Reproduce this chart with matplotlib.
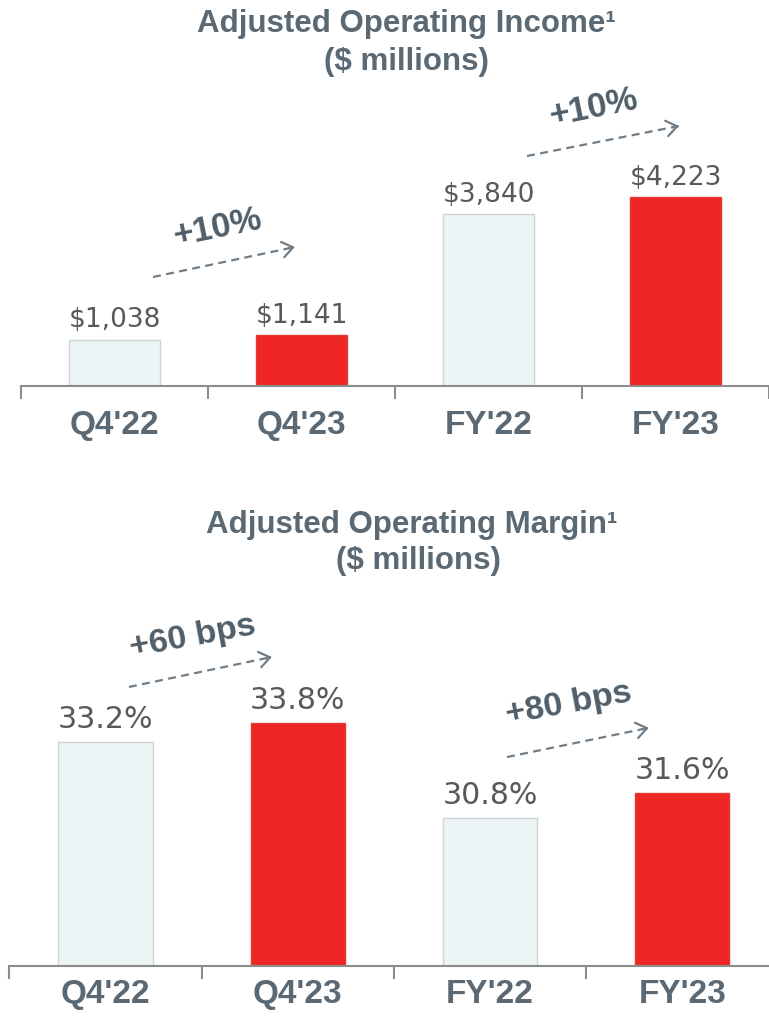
import matplotlib
matplotlib.use("Agg")
import matplotlib.pyplot as plt

# ---------------- data ----------------
categories = ["Q4'22", "Q4'23", "FY'22", "FY'23"]
income = [1038, 1141, 3840, 4223]
margin = [33.2, 33.8, 30.8, 31.6]
income_labels = ["$1,038", "$1,141", "$3,840", "$4,223"]
margin_labels = ["33.2%", "33.8%", "30.8%", "31.6%"]
income_changes = ["+10%", "+10%"]
margin_changes = ["+60 bps", "+80 bps"]

# ---------------- style ----------------
LIGHT = '#edf4f6'
RED = '#ee2724'
bar_colors = [LIGHT, RED, LIGHT, RED]
edge_colors = ['#cdd3d6', '#e33a36', '#cdd3d6', '#e33a36']
SLATE = '#5a6974'
ARROWC = '#6f7e88'
CHANGEC = '#4f5e69'
VALC = '#595959'
AXC = '#8c8c8c'

W, H = 769, 1020
fig = plt.figure(figsize=(W / 100, H / 100), dpi=100)


def rect(left, top, right, bottom):
    return [left / W, 1 - bottom / H, (right - left) / W, (bottom - top) / H]


def style(ax, pad):
    for s in ['top', 'left', 'right']:
        ax.spines[s].set_visible(False)
    ax.spines['bottom'].set_color(AXC)
    ax.spines['bottom'].set_linewidth(1.5)
    ax.set_xlim(-0.5, 3.5)
    ax.set_yticks([])
    ax.set_xticks(range(len(categories)))
    ax.set_xticklabels(categories, fontfamily='Liberation Sans', fontweight='bold',
                       fontsize=24, color=SLATE)
    ax.tick_params(axis='x', which='major', length=0, pad=pad)
    ax.set_xticks([i - 0.5 for i in range(len(categories) + 1)], minor=True)
    ax.tick_params(axis='x', which='minor', length=9, width=1.5, color=AXC, direction='out')
    ax.patch.set_alpha(0)


def change_arrow(ax, start, end, text, tpos, rot, size):
    (x0, y0), (x1, y1) = start, end
    ax.plot([x0, x1], [y0, y1], linestyle=(0, (3.6, 2.4)), lw=1.6, color=ARROWC,
            solid_capstyle='butt', dash_capstyle='butt')
    eps = 0.04
    ax.annotate('', xy=(x1, y1), xytext=(x1 - eps * (x1 - x0), y1 - eps * (y1 - y0)),
                arrowprops=dict(arrowstyle='->,head_length=0.55,head_width=0.4',
                                lw=1.6, color=ARROWC, shrinkA=0, shrinkB=0,
                                mutation_scale=14))
    ax.text(tpos[0], tpos[1], text, rotation=rot, rotation_mode='anchor',
            ha='center', va='center', fontfamily='Liberation Sans', fontweight='bold',
            fontsize=size, color=CHANGEC)


# ---------------- top chart ----------------
ax1 = fig.add_axes(rect(21, 87, 769, 387))
x = range(len(categories))
ax1.bar(x, income, width=0.49, color=bar_colors, edgecolor=edge_colors, linewidth=1)
ax1.set_ylim(0, 6711)
style(ax1, 16.5)
for i, (v, lab) in enumerate(zip(income, income_labels)):
    ax1.annotate(lab, (i, v), xytext=(0, 9.7), textcoords='offset points',
                 ha='center', va='baseline', fontfamily='DejaVu Sans',
                 fontsize=19, color=VALC)
change_arrow(ax1, (0.206, 2438), (0.965, 3110), income_changes[0], (0.553, 3557), 11.5, 25)
change_arrow(ax1, (2.206, 5145), (3.019, 5817), income_changes[1], (2.564, 6242), 11.5, 25)

# ---------------- bottom chart ----------------
ax2 = fig.add_axes(rect(9.3, 600, 778.5, 966.7))
ax2.bar(x, margin, width=0.49, color=bar_colors, edgecolor=edge_colors, linewidth=1,
        bottom=0)
ax2.set_ylim(26.09, 37.76)
style(ax2, 9)
for i, (v, lab) in enumerate(zip(margin, margin_labels)):
    ax2.annotate(lab, (i, v), xytext=(0, 10.8), textcoords='offset points',
                 ha='center', va='baseline', fontfamily='DejaVu Sans',
                 fontsize=21.6, color=VALC)
change_arrow(ax2, (0.122, 34.96), (0.866, 35.915), margin_changes[0], (0.453, 36.57), 10.5, 24.5)
change_arrow(ax2, (2.088, 32.73), (2.826, 33.66), margin_changes[1], (2.408, 34.43), 10.5, 24.5)

# ---------------- titles ----------------
tkw = dict(ha='center', va='baseline', fontfamily='Liberation Sans', fontweight='bold',
           fontsize=22.5, color=SLATE)
fig.text(406 / W, 1 - 32 / H, "Adjusted Operating Income\u00b9", **tkw)
fig.text(406 / W, 1 - 70 / H, "($ millions)", **tkw)
fig.text(412 / W, 1 - 533 / H, "Adjusted Operating Margin\u00b9", **tkw)
fig.text(418 / W, 1 - 569 / H, "($ millions)", **tkw)

fig.savefig("out.png", dpi=100)
